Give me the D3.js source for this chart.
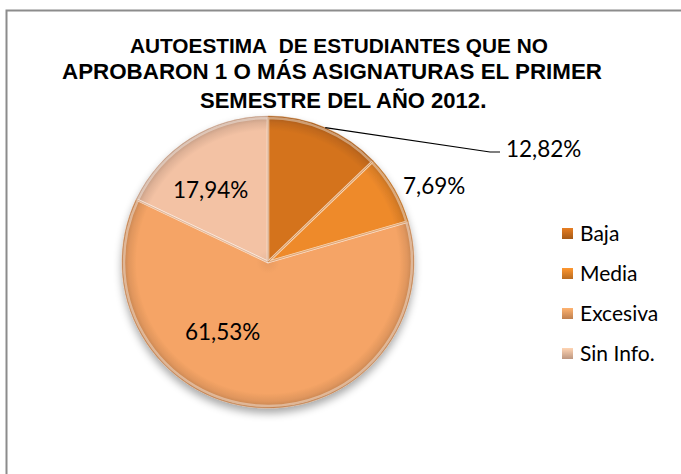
<!DOCTYPE html>
<html><head><meta charset="utf-8">
<script src="https://cdn.jsdelivr.net/npm/d3@7"></script>
<style>body{margin:0;background:#fff}svg{display:block}</style>
</head><body>
<script>
const categories = ["Baja", "Media", "Excesiva", "Sin Info."];
const values = [12.82, 7.69, 61.53, 17.94];
const valueLabels = ["12,82%", "7,69%", "61,53%", "17,94%"];
const colors = ["#D4731F", "#EE8A2B", "#F5A466", "#F3C2A4"];
const titleLines = ["AUTOESTIMA\u00A0 DE ESTUDIANTES QUE NO", "APROBARON 1 O MÁS ASIGNATURAS EL PRIMER", "SEMESTRE DEL AÑO 2012"];

const W = 681, H = 474;
const svg = d3.select("body").append("svg").attr("width", W).attr("height", H);
const defs = svg.append("defs");

// frame
svg.append("rect").attr("x", 6.5).attr("y", 10.5).attr("width", W).attr("height", H)
  .attr("fill", "#fff").attr("stroke", "#8c8c8c").attr("stroke-width", 2);

// title
const title = svg.append("g").style("font-family", "'Liberation Sans', Arial, sans-serif")
  .attr("font-weight", "bold").attr("fill", "#000");
const tY = [53, 79, 108];
const tX = [130, 62, 200];
const tWidth = [418, 540, 280];
titleLines.forEach((t, i) => {
  const tx = title.append("text").attr("x", tX[i]).attr("y", tY[i]).attr("font-size", 18).text(t);
  const w = tx.node().getComputedTextLength();
  tx.attr("font-size", 18 * tWidth[i] / w);
  if (i === 2) tx.append("tspan").attr("font-size", 24).text(".");
});

const cx = 268, cy = 262, R = 146;
const pie = d3.pie().sort(null).value(d => d)(values);
const arc = d3.arc().innerRadius(0).outerRadius(R);

// shadow filter
const f = defs.append("filter").attr("id", "sh").attr("x", "-20%").attr("y", "-20%").attr("width", "140%").attr("height", "150%");
f.append("feGaussianBlur").attr("in", "SourceAlpha").attr("stdDeviation", 4).attr("result", "b");
f.append("feOffset").attr("in", "b").attr("dy", 5).attr("result", "o");
f.append("feComponentTransfer").attr("in", "o").attr("result", "o2")
  .append("feFuncA").attr("type", "linear").attr("slope", 0.35);
const m = f.append("feMerge");
m.append("feMergeNode").attr("in", "o2");
m.append("feMergeNode").attr("in", "SourceGraphic");

colors.forEach((c, i) => {
  const g = defs.append("radialGradient").attr("id", "g" + i)
    .attr("gradientUnits", "userSpaceOnUse").attr("cx", 0).attr("cy", 0).attr("r", R);
  const dk = d3.color(c).darker(0.7), lt = d3.color(c).brighter(0.25);
  g.append("stop").attr("offset", 0).attr("stop-color", d3.color(c).darker(0.15));
  g.append("stop").attr("offset", 0.08).attr("stop-color", c);
  g.append("stop").attr("offset", 0.9).attr("stop-color", c);
  g.append("stop").attr("offset", 0.955).attr("stop-color", d3.color(c).darker(0.25));
  g.append("stop").attr("offset", 1).attr("stop-color", dk);
  const lg = defs.append("linearGradient").attr("id", "lg" + i).attr("x1", 0).attr("y1", 0).attr("x2", 0).attr("y2", 1);
  lg.append("stop").attr("offset", 0).attr("stop-color", lt);
  lg.append("stop").attr("offset", 1).attr("stop-color", dk);
});

const pg = svg.append("g").attr("transform", `translate(${cx},${cy})`).attr("filter", "url(#sh)");
pg.selectAll("path.s").data(pie).join("path").attr("class", "s")
  .attr("d", arc).attr("fill", (d, i) => `url(#g${i})`);
pg.selectAll("path.h").data(pie).join("path").attr("class", "h")
  .attr("d", d3.arc().innerRadius(0).outerRadius(R - 2))
  .attr("fill", "none").attr("stroke", "#fff").attr("stroke-opacity", 0.4).attr("stroke-width", 2.5)
  .attr("stroke-linejoin", "round");
pg.selectAll("path.e").data(pie).join("path").attr("class", "e")
  .attr("d", arc).attr("fill", "none").attr("stroke", (d, i) => d3.color(colors[i]).darker(0.4))
  .attr("stroke-opacity", 0.5).attr("stroke-width", 0.8);

// labels
const lab = svg.append("g").style("font-family", "Lato, 'Open Sans', sans-serif").attr("font-size", 22.5).attr("fill", "#000");
const labelPos = [[238, -105], [135, -68], [-83, 78], [-95, -64]];
pie.forEach((d, i) => {
  lab.append("text").attr("x", cx + labelPos[i][0]).attr("y", cy + labelPos[i][1]).text(valueLabels[i]);
});
const a0 = (pie[0].startAngle + pie[0].endAngle) / 2;
const p0 = [cx + R * Math.sin(a0), cy - R * Math.cos(a0)];
svg.append("path").attr("d", d3.line()([p0, [cx + 222, cy - 110], [cx + 232, cy - 110]]))
  .attr("fill", "none").attr("stroke", "#000").attr("stroke-width", 1.2);

// legend
const leg = svg.append("g").style("font-family", "Lato, 'Open Sans', sans-serif").attr("font-size", 21).attr("fill", "#000");
categories.forEach((c, i) => {
  const y = 233 + i * 40;
  leg.append("rect").attr("x", 562).attr("y", y - 5).attr("width", 11).attr("height", 11)
    .attr("fill", `url(#lg${i})`);
  leg.append("text").attr("x", 580).attr("y", y + 7.5).text(c);
});
</script>
</body></html>
